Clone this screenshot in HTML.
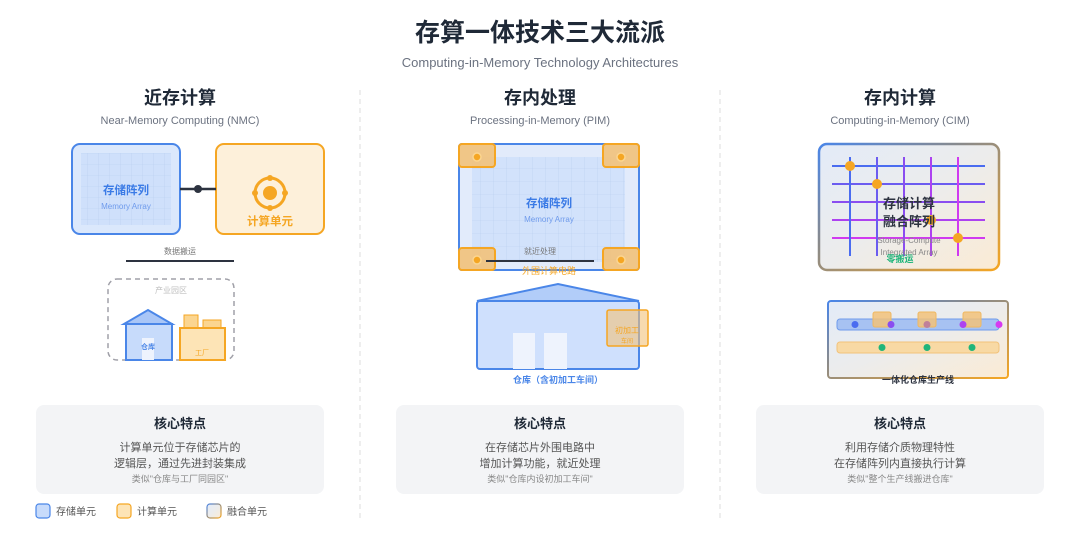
<!DOCTYPE html>
<html><head><meta charset="utf-8"><style>
html,body{margin:0;padding:0;background:#fff;width:1080px;height:540px;overflow:hidden}
svg{display:block}
text{font-family:"Liberation Sans","Noto Sans CJK SC",sans-serif}
</style></head><body>
<svg width="1080" height="540" viewBox="0 0 1080 540" xmlns="http://www.w3.org/2000/svg">
<defs>
<pattern id="g1" width="11" height="11" patternUnits="userSpaceOnUse"><path d="M11 0V11M0 11H11" stroke="#b7cdef" stroke-width="0.6" fill="none"/></pattern>
<pattern id="g2" width="13" height="13" patternUnits="userSpaceOnUse"><path d="M13 0V13M0 13H13" stroke="#b7cdef" stroke-width="0.6" fill="none"/></pattern>
<linearGradient id="fuse" x1="0" y1="0" x2="1" y2="1"><stop offset="0" stop-color="#e3ebf8"/><stop offset="0.5" stop-color="#ececec"/><stop offset="1" stop-color="#fbebd4"/></linearGradient>
<linearGradient id="fuseS" x1="0" y1="0" x2="1" y2="1"><stop offset="0" stop-color="#4a86e8"/><stop offset="0.4" stop-color="#8a8a8a"/><stop offset="1" stop-color="#f5a623"/></linearGradient>
<linearGradient id="gl" x1="0" y1="0" x2="1" y2="0"><stop offset="0" stop-color="#4a6cf0"/><stop offset="1" stop-color="#d63af0"/></linearGradient>
<linearGradient id="glv" x1="0" y1="0" x2="0" y2="1"><stop offset="0" stop-color="#4a6cf0"/><stop offset="1" stop-color="#d63af0"/></linearGradient>
</defs>

<text x="540" y="41" text-anchor="middle" font-size="25" font-weight="bold" fill="#1f2937">存算一体技术三大流派</text>
<text x="540" y="67" text-anchor="middle" font-size="13" fill="#6b7280">Computing-in-Memory Technology Architectures</text>

<line x1="360" y1="90" x2="360" y2="520" stroke="#dcdcdc" stroke-dasharray="5,4"/>
<line x1="720" y1="90" x2="720" y2="520" stroke="#dcdcdc" stroke-dasharray="5,4"/>

<!-- Column 1 -->
<text x="180" y="104" text-anchor="middle" font-size="18" font-weight="bold" fill="#1f2937">近存计算</text>
<text x="180" y="124" text-anchor="middle" font-size="11" fill="#6b7280">Near-Memory Computing (NMC)</text>
<rect x="72" y="144" width="108" height="90" rx="8" fill="#dbe8fc" stroke="#4a86e8" stroke-width="2"/>
<rect x="81" y="153" width="90" height="72" fill="#cfe0fb"/>
<rect x="81" y="153" width="90" height="72" fill="url(#g1)"/>
<text x="126" y="194" text-anchor="middle" font-size="11.5" font-weight="bold" fill="#3b7be6">存储阵列</text>
<text x="126" y="209" text-anchor="middle" font-size="8" fill="#6f9bec">Memory Array</text>
<rect x="216" y="144" width="108" height="90" rx="8" fill="#fdf0da" stroke="#f5a623" stroke-width="2"/>
<circle cx="270" cy="193" r="15" fill="none" stroke="#f5a623" stroke-width="3"/>
<circle cx="270" cy="193" r="7" fill="#f5a623"/>
<circle cx="270" cy="178" r="3" fill="#f5a623"/><circle cx="270" cy="208" r="3" fill="#f5a623"/><circle cx="255" cy="193" r="3" fill="#f5a623"/><circle cx="285" cy="193" r="3" fill="#f5a623"/>
<text x="270" y="225" text-anchor="middle" font-size="11.5" font-weight="bold" fill="#f5a623">计算单元</text>
<line x1="180" y1="189" x2="216" y2="189" stroke="#2d3340" stroke-width="2.5"/>
<circle cx="198" cy="189" r="4" fill="#2d3340"/>
<text x="180" y="254" text-anchor="middle" font-size="8" fill="#777">数据搬运</text>
<line x1="126" y1="261" x2="234" y2="261" stroke="#2d3340" stroke-width="2"/>
<rect x="108" y="279" width="126" height="81" rx="9" fill="none" stroke="#a0a0a8" stroke-width="1.5" stroke-dasharray="5,4"/>
<text x="171" y="293" text-anchor="middle" font-size="8" fill="#c0c0c0">产业园区</text>
<rect x="126" y="324" width="46" height="36" fill="#c7dbfb" stroke="#4a86e8" stroke-width="2"/>
<polygon points="124,324 148,310 172,324" fill="#a9c6f7" stroke="#4a86e8" stroke-width="2"/>
<rect x="142" y="338" width="12" height="22" fill="#eef3fd"/>
<text x="148" y="349" text-anchor="middle" font-size="7" font-weight="bold" fill="#4a86e8">仓库</text>
<rect x="184" y="315" width="14" height="13" fill="#fbd590" stroke="#f5a623" stroke-width="1"/>
<rect x="203" y="320" width="18" height="8" fill="#fbd590" stroke="#f5a623" stroke-width="1"/>
<rect x="180" y="328" width="45" height="32" fill="#fde4b6" stroke="#f5a623" stroke-width="2"/>
<text x="202" y="355" text-anchor="middle" font-size="7" fill="#f5a623">工厂</text>

<!-- Column 2 -->
<text x="540" y="104" text-anchor="middle" font-size="18" font-weight="bold" fill="#1f2937">存内处理</text>
<text x="540" y="124" text-anchor="middle" font-size="11" fill="#6b7280">Processing-in-Memory (PIM)</text>
<rect x="459" y="144" width="180" height="126" rx="3" fill="#e2ebfb" stroke="#4a86e8" stroke-width="2"/>
<rect x="472" y="157" width="153" height="105" fill="#d2e2fb"/>
<rect x="472" y="157" width="153" height="105" fill="url(#g2)"/>
<text x="549" y="207" text-anchor="middle" font-size="11.5" font-weight="bold" fill="#3b7be6">存储阵列</text>
<text x="549" y="222" text-anchor="middle" font-size="8" fill="#6f9bec">Memory Array</text>
<g fill="#f2c27a" fill-opacity="0.9" stroke="#f5a623" stroke-width="2">
<rect x="459" y="144" width="36" height="23" rx="3"/><rect x="603" y="144" width="36" height="23" rx="3"/>
<rect x="459" y="248" width="36" height="22" rx="3"/><rect x="603" y="248" width="36" height="22" rx="3"/>
</g>
<g fill="#f5a623" stroke="#fbd590" stroke-width="1.5">
<circle cx="477" cy="157" r="4"/><circle cx="621" cy="157" r="4"/><circle cx="477" cy="260" r="4"/><circle cx="621" cy="260" r="4"/>
</g>
<text x="540" y="254" text-anchor="middle" font-size="8" fill="#777">就近处理</text>
<line x1="486" y1="261" x2="594" y2="261" stroke="#2d3340" stroke-width="2"/>
<text x="549" y="274" text-anchor="middle" font-size="9" fill="#f5a623">外围计算电路</text>
<polygon points="477,301 558,284 639,301" fill="#b2cdf9" stroke="#4a86e8" stroke-width="2"/>
<rect x="477" y="301" width="162" height="68" rx="3" fill="#cfe0fd" stroke="#4a86e8" stroke-width="2"/>
<rect x="513" y="333" width="22" height="36" fill="#eef3fd"/>
<rect x="544" y="333" width="23" height="36" fill="#eef3fd"/>
<rect x="607" y="310" width="41" height="36" rx="2" fill="#f2c27a" fill-opacity="0.6" stroke="#f5a623" stroke-width="1.5"/>
<text x="627" y="333" text-anchor="middle" font-size="8" fill="#f5a623">初加工</text>
<text x="627" y="343" text-anchor="middle" font-size="6" fill="#f5a623">车间</text>
<text x="558" y="383" text-anchor="middle" font-size="9" font-weight="bold" fill="#4a86e8">仓库（含初加工车间）</text>

<!-- Column 3 -->
<text x="900" y="104" text-anchor="middle" font-size="18" font-weight="bold" fill="#1f2937">存内计算</text>
<text x="900" y="124" text-anchor="middle" font-size="11" fill="#6b7280">Computing-in-Memory (CIM)</text>
<rect x="819" y="144" width="180" height="126" rx="8" fill="url(#fuse)" stroke="url(#fuseS)" stroke-width="2.5"/>
<g stroke-width="2">
<line x1="832" y1="166" x2="985" y2="166" stroke="#4a6cf0"/>
<line x1="832" y1="184" x2="985" y2="184" stroke="#6b5cf0"/>
<line x1="832" y1="202" x2="985" y2="202" stroke="#8a4df0"/>
<line x1="832" y1="220" x2="985" y2="220" stroke="#ad42f0"/>
<line x1="832" y1="238" x2="985" y2="238" stroke="#d03af0"/>
<line x1="850" y1="157" x2="850" y2="256" stroke="#4a6cf0"/>
<line x1="877" y1="157" x2="877" y2="256" stroke="#6b5cf0"/>
<line x1="904" y1="157" x2="904" y2="256" stroke="#8a4df0"/>
<line x1="931" y1="157" x2="931" y2="256" stroke="#ad42f0"/>
<line x1="958" y1="157" x2="958" y2="256" stroke="#d03af0"/>
</g>
<g fill="#f5a623"><circle cx="850" cy="166" r="5"/><circle cx="877" cy="184" r="5"/><circle cx="931" cy="220" r="5"/><circle cx="958" cy="238" r="5"/></g>
<text x="909" y="208" text-anchor="middle" font-size="13" font-weight="bold" fill="#2d3340">存储计算</text>
<text x="909" y="226" text-anchor="middle" font-size="13" font-weight="bold" fill="#2d3340">融合阵列</text>
<text x="909" y="243" text-anchor="middle" font-size="8" fill="#888">Storage-Compute</text>
<text x="909" y="255" text-anchor="middle" font-size="8" fill="#888">Integrated Array</text>
<text x="900" y="262" text-anchor="middle" font-size="9" font-weight="bold" fill="#1fb57a">零搬运</text>
<rect x="828" y="301" width="180" height="77" rx="3" fill="url(#fuse)" stroke="url(#fuseS)" stroke-width="2"/>
<rect x="837" y="319" width="162" height="11" rx="3" fill="#a7c2f2" stroke="#6f9bec" stroke-width="1"/>
<rect x="837" y="342" width="162" height="11" rx="3" fill="#f8d9a4" stroke="#f2c27a" stroke-width="1"/>
<g fill="#f2c27a" fill-opacity="0.85" stroke="#f0b860" stroke-width="1">
<rect x="873" y="312" width="18" height="15" rx="2"/><rect x="918" y="312" width="18" height="15" rx="2"/><rect x="963" y="312" width="18" height="15" rx="2"/>
</g>
<circle cx="855" cy="324.5" r="3.5" fill="#4a6cf0"/><circle cx="891" cy="324.5" r="3.5" fill="#8a4df0"/><circle cx="927" cy="324.5" r="3.5" fill="#c0809a"/><circle cx="963" cy="324.5" r="3.5" fill="#ad42f0"/><circle cx="999" cy="324.5" r="3.5" fill="#d63af0"/>
<circle cx="882" cy="347.5" r="3.5" fill="#1fb57a"/><circle cx="927" cy="347.5" r="3.5" fill="#1fb57a"/><circle cx="972" cy="347.5" r="3.5" fill="#1fb57a"/>
<text x="918" y="383" text-anchor="middle" font-size="9" font-weight="bold" fill="#2d3340">一体化仓库生产线</text>

<!-- Cards -->
<g font-size="11" fill="#555">
<rect x="36" y="405" width="288" height="89" rx="8" fill="#f3f4f6"/>
<text x="180" y="428" text-anchor="middle" font-size="13" font-weight="bold" fill="#1f2937">核心特点</text>
<text x="180" y="451" text-anchor="middle">计算单元位于存储芯片的</text>
<text x="180" y="467" text-anchor="middle">逻辑层，通过先进封装集成</text>
<text x="180" y="482" text-anchor="middle" font-size="9" fill="#888">类似"仓库与工厂同园区"</text>
<rect x="396" y="405" width="288" height="89" rx="8" fill="#f3f4f6"/>
<text x="540" y="428" text-anchor="middle" font-size="13" font-weight="bold" fill="#1f2937">核心特点</text>
<text x="540" y="451" text-anchor="middle">在存储芯片外围电路中</text>
<text x="540" y="467" text-anchor="middle">增加计算功能，就近处理</text>
<text x="540" y="482" text-anchor="middle" font-size="9" fill="#888">类似"仓库内设初加工车间"</text>
<rect x="756" y="405" width="288" height="89" rx="8" fill="#f3f4f6"/>
<text x="900" y="428" text-anchor="middle" font-size="13" font-weight="bold" fill="#1f2937">核心特点</text>
<text x="900" y="451" text-anchor="middle">利用存储介质物理特性</text>
<text x="900" y="467" text-anchor="middle">在存储阵列内直接执行计算</text>
<text x="900" y="482" text-anchor="middle" font-size="9" fill="#888">类似"整个生产线搬进仓库"</text>
</g>

<!-- Legend -->
<rect x="36" y="504" width="14" height="14" rx="3" fill="#c7dbfb" stroke="#4a86e8" stroke-width="1.2"/>
<text x="56" y="515" font-size="10" fill="#555">存储单元</text>
<rect x="117" y="504" width="14" height="14" rx="3" fill="#fde4b6" stroke="#f5a623" stroke-width="1.2"/>
<text x="137" y="515" font-size="10" fill="#555">计算单元</text>
<rect x="207" y="504" width="14" height="14" rx="3" fill="url(#fuse)" stroke="url(#fuseS)" stroke-width="1.2"/>
<text x="227" y="515" font-size="10" fill="#555">融合单元</text>
</svg>
</body></html>
